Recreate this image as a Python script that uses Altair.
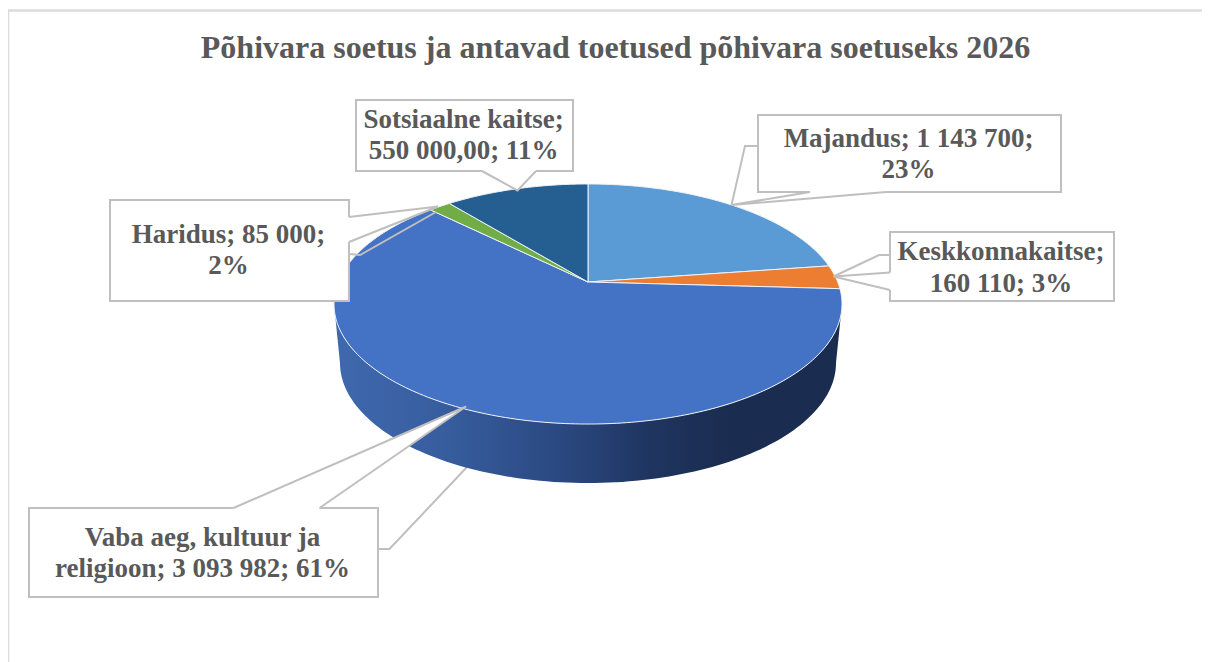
import math
import altair as alt
import pandas as pd

TITLE = "Põhivara soetus ja antavad toetused põhivara soetuseks 2026"
categories = ["Majandus", "Keskkonnakaitse", "Vaba aeg, kultuur ja religioon", "Haridus", "Sotsiaalne kaitse"]
values = [1143700, 160110, 3093982, 85000, 550000]
colors = ["#5b9bd5", "#ed7d31", "#4472c4", "#70ad47", "#255e91"]
label_lines = [
    ["Majandus;  1 143 700;", "23%"],
    ["Keskkonnakaitse;", "160 110; 3%"],
    ["Vaba aeg, kultuur  ja", "religioon;  3 093 982; 61%"],
    ["Haridus;  85 000;", "2%"],
    ["Sotsiaalne kaitse;", "550 000,00; 11%"],
]

# page-pixel layout helpers (annotation geometry, not data)
boxes = [(758, 1061, 115, 192), (890, 1114, 232, 301), (29, 378, 508, 597), (110, 349, 200, 301), (356, 573, 100, 171)]
line_ys = [(139, 170), (252, 284), (538, 569), (235, 266), (120, 151)]
wedges = [
    [(810, 192), (731.5, 205), (886, 192)],
    [(890, 272.5), (833.5, 276.5), (890, 290)],
    [(233.5, 508), (466, 406.5), (319.5, 508)],
    [(349, 217), (438, 206.5), (349, 242)],
    [(482, 171), (517.5, 190.5), (536, 171)],
]
elbows = [
    [(758, 146), (745, 146), (731.5, 205)],
    [(890, 255), (879, 255), (833.5, 276.5)],
    [],
    [(349, 254), (360, 255), (436, 212)],
    [],
]
under_line = [(378, 549), (389.5, 549), (467, 467)]

CX, APEX_Y, K, A, B = 588, 282, 0.1833, 249.7, 116.0


def project(theta):
    u, v = math.sin(theta), math.cos(theta)
    d = 1 + K * v
    return CX + A * u / d, APEX_Y - B * v / d


X0, X1, Y0, Y1 = 8, 1202, 8, 662
W, H = X1 - X0, Y1 - Y0
xs = alt.Scale(domain=[X0, X1], nice=False, zero=False)
ys = alt.Scale(domain=[Y1, Y0], nice=False, zero=False)


def path_layer(points, **mark):
    df = pd.DataFrame({"x": [p[0] for p in points], "y": [p[1] for p in points], "i": list(range(len(points)))})
    return alt.Chart(df).mark_line(**mark).encode(
        x=alt.X("x:Q", scale=xs, axis=None),
        y=alt.Y("y:Q", scale=ys, axis=None),
        order=alt.Order("i:Q"),
    )


layers = []
GRAY = "#bfbfbf"
layers.append(path_layer([(8, 662), (8, 10.5), (1202, 10.5)], stroke="#dcdcdc", strokeWidth=2.5, clip=False))
layers.append(path_layer(under_line, stroke=GRAY, strokeWidth=2))

# side wall
DEPTH, SHRINK = 59, 248 / 254
STEPS = 120
top_low, bottom_low = [], []
th_r = math.pi - math.acos(K)
th_l = math.pi + math.acos(K)
for s in range(STEPS + 1):
    t = th_r + (th_l - th_r) * s / STEPS
    px, py = project(t)
    top_low.append((px, py))
    bottom_low.append((CX + (px - CX) * SHRINK, py + DEPTH))
side_grad = alt.Gradient(
    gradient="linear", x1=0, x2=1, y1=0, y2=0,
    stops=[
        alt.GradientStop(color="#3f69ae", offset=0),
        alt.GradientStop(color="#375d9e", offset=0.22),
        alt.GradientStop(color="#2a4880", offset=0.45),
        alt.GradientStop(color="#1f3560", offset=0.62),
        alt.GradientStop(color="#1a2c4f", offset=0.78),
        alt.GradientStop(color="#1a2c4f", offset=1),
    ],
)
layers.append(path_layer(top_low + bottom_low[::-1] + [top_low[0]], fill=side_grad, stroke=None, strokeWidth=0))

# top face
total = sum(values)
cum = 0.0
for val, col in zip(values, colors):
    a0 = 2 * math.pi * cum / total
    cum += val
    a1 = 2 * math.pi * cum / total
    n = max(4, int((a1 - a0) * 60))
    pts = [(CX, APEX_Y)] + [project(a0 + (a1 - a0) * j / n) for j in range(n + 1)] + [(CX, APEX_Y)]
    layers.append(path_layer(pts, fill=col, stroke="#eef2f8", strokeWidth=1))

# callouts and boxes
for cat, lines, box, ly, wedge, elbow in zip(categories, label_lines, boxes, line_ys, wedges, elbows):
    bdf = pd.DataFrame({"x": [box[0]], "x2": [box[1]], "y": [box[2]], "y2": [box[3]]})
    layers.append(alt.Chart(bdf).mark_rect(fill="white", stroke=GRAY, strokeWidth=2).encode(
        x=alt.X("x:Q", scale=xs, axis=None), x2="x2:Q",
        y=alt.Y("y:Q", scale=ys, axis=None), y2="y2:Q"))
    layers.append(path_layer(wedge + [wedge[0]], fill="white", stroke=None, strokeWidth=0))
    layers.append(path_layer([wedge[0], wedge[2]], stroke="white", strokeWidth=3))
    layers.append(path_layer(wedge, stroke=GRAY, strokeWidth=2))
    if elbow:
        layers.append(path_layer(elbow, stroke=GRAY, strokeWidth=2))
    tdf = pd.DataFrame({"x": [(box[0] + box[1]) / 2 - 1] * 2, "y": list(ly), "t": lines})
    layers.append(alt.Chart(tdf).mark_text(
        font="Liberation Serif", fontWeight="bold", fontSize=27, color="#595959", align="center", baseline="middle"
    ).encode(x=alt.X("x:Q", scale=xs, axis=None), y=alt.Y("y:Q", scale=ys, axis=None), text="t:N"))

chart = alt.layer(*layers).properties(
    width=W, height=H, autosize="none", padding=0,
    title=alt.TitleParams(
        text=TITLE, anchor="middle", font="Liberation Serif", fontWeight="bold", fontSize=32,
        color="#595959", dx=10.5, dy=63,
    ),
).configure_view(stroke=None)

chart.save("out.html", embed_options={"renderer": "svg", "actions": False})
